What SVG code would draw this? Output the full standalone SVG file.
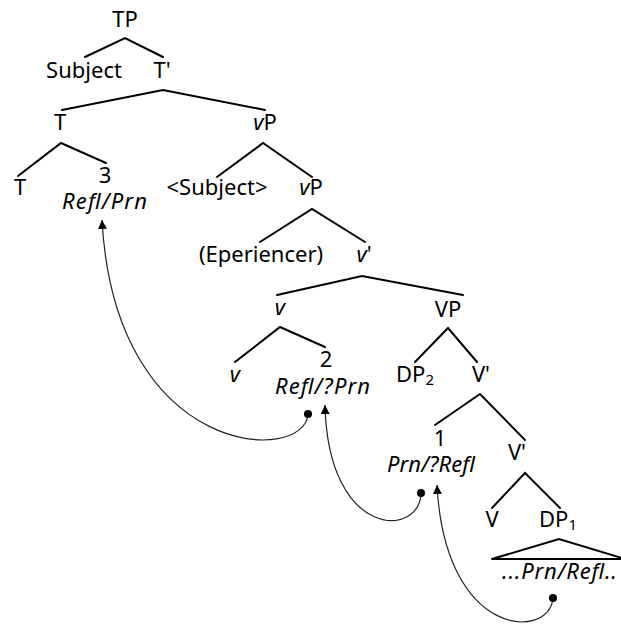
<svg xmlns="http://www.w3.org/2000/svg" width="621" height="625" viewBox="0 0 621 625">
<defs>
<style>
text{font-family:"Noto Sans","DejaVu Sans",sans-serif;font-size:22px;fill:#000;text-anchor:middle}
.i{font-style:italic}
.sub{font-size:15px}
.edge{stroke:#000;stroke-width:2;fill:none;stroke-linecap:round}
.mv{stroke:#222;stroke-width:1.2;fill:none}
</style>
<marker id="ah" viewBox="0 0 10 10" refX="10" refY="5" markerWidth="9" markerHeight="10" markerUnits="userSpaceOnUse" orient="auto">
<path d="M0,0 L10,5 L0,10 z" fill="#000"/>
</marker>
</defs>
<rect width="621" height="625" fill="#fff"/>
<g id="edges">
<path class="edge" d="M85,57 L125,38 L163,57"/>
<path class="edge" d="M62,110 L163,90 L265,110"/>
<path class="edge" d="M18,176 L61,143 L106,163"/>
<path class="edge" d="M217,177 L263,143 L312,177"/>
<path class="edge" d="M260,242 L312,209 L365,242"/>
<path class="edge" d="M277,295 L362,276 L463,295"/>
<path class="edge" d="M235,362 L280,327 L325,347"/>
<path class="edge" d="M415,362 L448,328 L477,362"/>
<path class="edge" d="M435,425 L480,394 L525,440"/>
<path class="edge" d="M492,508 L525,473 L560,508"/>
<path class="edge" d="M492,559 L559,539 L625,559 M492,559 L625,559"/>
</g>
<g id="n-TP"><text x="125" y="27">TP</text></g>
<g id="n-Subject"><text x="84" y="78">Subject</text></g>
<g id="n-Tbar"><text x="162" y="78">T'</text></g>
<g id="n-T"><text x="60" y="130">T</text></g>
<g id="n-vP1"><text x="265" y="130"><tspan class="i">v</tspan>P</text></g>
<g id="n-T0"><text x="20" y="195">T</text></g>
<g id="n-3"><text x="105" y="183">3</text><text class="i" x="104.5" y="209" textLength="85" lengthAdjust="spacing">Refl/Prn</text></g>
<g id="n-SubjectCopy"><text x="217" y="195">&lt;Subject&gt;</text></g>
<g id="n-vP2"><text x="311" y="195"><tspan class="i">v</tspan>P</text></g>
<g id="n-Exp"><text x="261" y="262">(Eperiencer)</text></g>
<g id="n-vbar"><text x="364" y="262"><tspan class="i">v</tspan>'</text></g>
<g id="n-v1"><text class="i" x="280" y="315">v</text></g>
<g id="n-VP"><text x="448" y="317">VP</text></g>
<g id="n-v0"><text class="i" x="235" y="382">v</text></g>
<g id="n-2"><text x="326" y="367">2</text><text class="i" x="322.5" y="394" textLength="95" lengthAdjust="spacing">Refl/?Prn</text></g>
<g id="n-DP2"><text x="415" y="382">DP<tspan class="sub" dy="3">2</tspan></text></g>
<g id="n-Vbar1"><text x="481" y="382">V'</text></g>
<g id="n-1"><text x="440" y="446">1</text><text class="i" x="431" y="472" textLength="88" lengthAdjust="spacing">Prn/?Refl</text></g>
<g id="n-Vbar2"><text x="517" y="460">V'</text></g>
<g id="n-V"><text x="492" y="527">V</text></g>
<g id="n-DP1"><text x="558" y="527">DP<tspan class="sub" dy="3">1</tspan></text></g>
<g id="n-DP1content"><text class="i" x="502" y="579" style="text-anchor:start" textLength="115" lengthAdjust="spacing">...Prn/Refl..</text></g>
<g id="connectors">
<path class="mv" d="M308,414 C305,465 115,460 102,220" marker-end="url(#ah)"/>
<circle cx="308" cy="414" r="4"/>
<path class="mv" d="M421,493 C420,538 328,540 325,405" marker-end="url(#ah)"/>
<circle cx="421" cy="493" r="4"/>
<path class="mv" d="M553,598 C550,640 445,640 437,485" marker-end="url(#ah)"/>
<circle cx="553" cy="598" r="4"/>
</g>
</svg>
